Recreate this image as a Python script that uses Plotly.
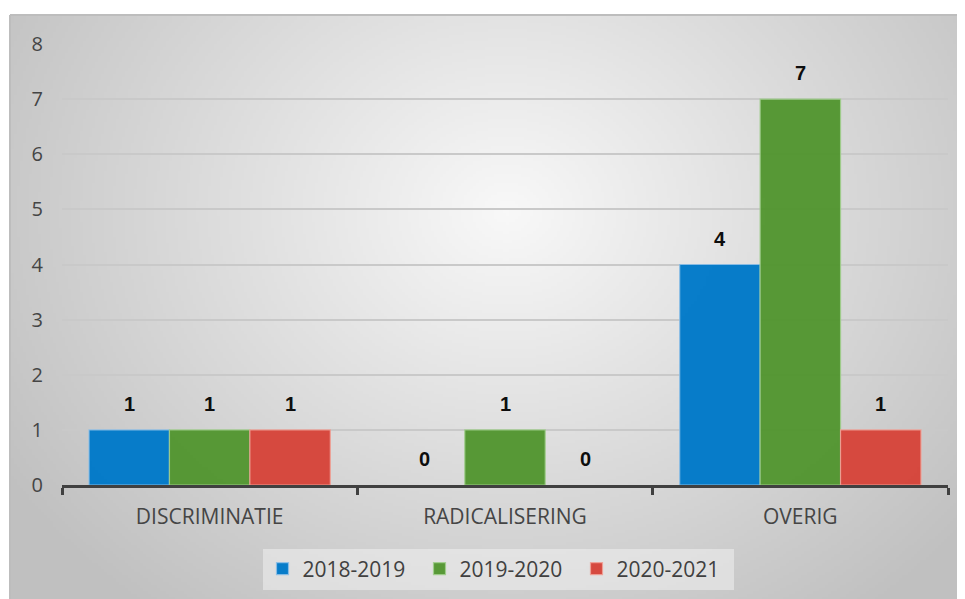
import base64, struct, zlib
import plotly.graph_objects as go

categories = ["DISCRIMINATIE", "RADICALISERING", "OVERIG"]
series_names = ["2018-2019", "2019-2020", "2020-2021"]
values_2018 = [1, 0, 4]
values_2019 = [1, 1, 7]
values_2020 = [1, 0, 1]
y_ticks = [0, 1, 2, 3, 4, 5, 6, 7, 8]

series_values = [values_2018, values_2019, values_2020]
colors = ["rgba(0,121,200,0.97)", "rgba(79,148,44,0.94)", "rgba(214,68,58,0.97)"]
edge_colors = ["rgba(140,190,230,0.9)", "rgba(160,205,140,0.9)", "rgba(240,160,150,0.9)"]

# --- background gradient image (radial, light center, grey edges) ---
def make_png(w, h):
    cx, cy = w * 0.52, h * 0.33
    rx, ry = w * 0.62, h * 0.85
    raw = bytearray()
    for j in range(h):
        raw.append(0)
        for i in range(w):
            d = (((i - cx) / rx) ** 2 + ((j - cy) / ry) ** 2) ** 0.5
            d = min(d, 1.0)
            v = int(round(248 - (248 - 192) * d))
            raw += bytes((v, v, v))
    def chunk(t, data):
        c = struct.pack(">I", len(data)) + t + data
        return c + struct.pack(">I", zlib.crc32(t + data) & 0xffffffff)
    png = b"\x89PNG\r\n\x1a\n"
    png += chunk(b"IHDR", struct.pack(">IIBBBBB", w, h, 8, 2, 0, 0, 0))
    png += chunk(b"IDAT", zlib.compress(bytes(raw), 9))
    png += chunk(b"IEND", b"")
    return "data:image/png;base64," + base64.b64encode(png).decode()

W, H = 965, 599
L, R, T, B = 54, 25, 36, 122
pw, ph = W - L - R, H - T - B
fx0, fy0, fx1, fy1 = 2, 7, 955, 599  # frame in figure px
def px2x(px):
    return (px - L) / pw
def py2y(py):
    return (H - B - py) / ph

fig = go.Figure()
for name, vals, col, ec in zip(series_names, series_values, colors, edge_colors):
    fig.add_trace(go.Bar(
        x=categories, y=vals, name=name,
        marker=dict(color=col, line=dict(color=ec, width=[1.2 if v else 0 for v in vals])),
    ))

annotations = []
bar_px = pw / 3 * (1 - 0.183) / 3
for k, vals in enumerate(series_values):
    for c, v in zip(categories, vals):
        annotations.append(dict(
            x=c, y=v, xref="x", yref="y", text="<b>" + str(v) + "</b>", showarrow=False,
            xshift=(k - 1) * bar_px, yshift=26, yanchor="middle",
            font=dict(family="Liberation Sans", size=20, color="#0d0d0d"),
        ))

fig.update_layout(
    width=W, height=H,
    margin=dict(l=L, r=R, t=T, b=B, pad=0),
    paper_bgcolor="white",
    plot_bgcolor="rgba(0,0,0,0)",
    barmode="group", bargap=0.183, bargroupgap=0.0,
    font=dict(family="Open Sans", color="#454545", size=19),
    showlegend=True,
    legend=dict(
        orientation="h", x=px2x(490), y=py2y(561), xanchor="center", yanchor="middle",
        bgcolor="rgba(240,240,240,0.55)", borderwidth=0,
        font=dict(family="Open Sans", size=21, color="#404040"),
        itemwidth=30, traceorder="normal", entrywidth=112,
    ),
    annotations=annotations,
    images=[dict(
        source=make_png(320, 196), xref="paper", yref="paper",
        x=px2x(fx0), y=py2y(fy0), sizex=(fx1 - fx0) / pw, sizey=(fy1 - fy0) / ph,
        xanchor="left", yanchor="top", sizing="stretch", layer="below",
    )],
    shapes=[
        dict(type="line", xref="paper", yref="paper", x0=px2x(fx0), x1=px2x(fx1),
             y0=py2y(fy0), y1=py2y(fy0), line=dict(color="#bdbdbd", width=2), layer="below"),
        dict(type="line", xref="paper", yref="paper", x0=px2x(fx0), x1=px2x(fx0),
             y0=py2y(fy0), y1=py2y(fy1), line=dict(color="#bdbdbd", width=2), layer="below"),
    ],
)
fig.update_xaxes(
    showline=True, linecolor="#404040", linewidth=3,
    ticks="outside", tickson="boundaries", ticklen=7, tickwidth=3, tickcolor="#404040",
    tickfont=dict(family="Open Sans", size=21, color="#454545"),
    ticklabelstandoff=11,
    showgrid=False,
)
fig.update_yaxes(
    range=[0, 8], tickvals=y_ticks, showline=False, zeroline=False,
    showgrid=True, gridcolor="#c9c9c9", gridwidth=2,
    ticks="", ticklabelstandoff=18,
    tickfont=dict(family="Open Sans", size=20, color="#454545"),
)
fig.write_html("out.html")
